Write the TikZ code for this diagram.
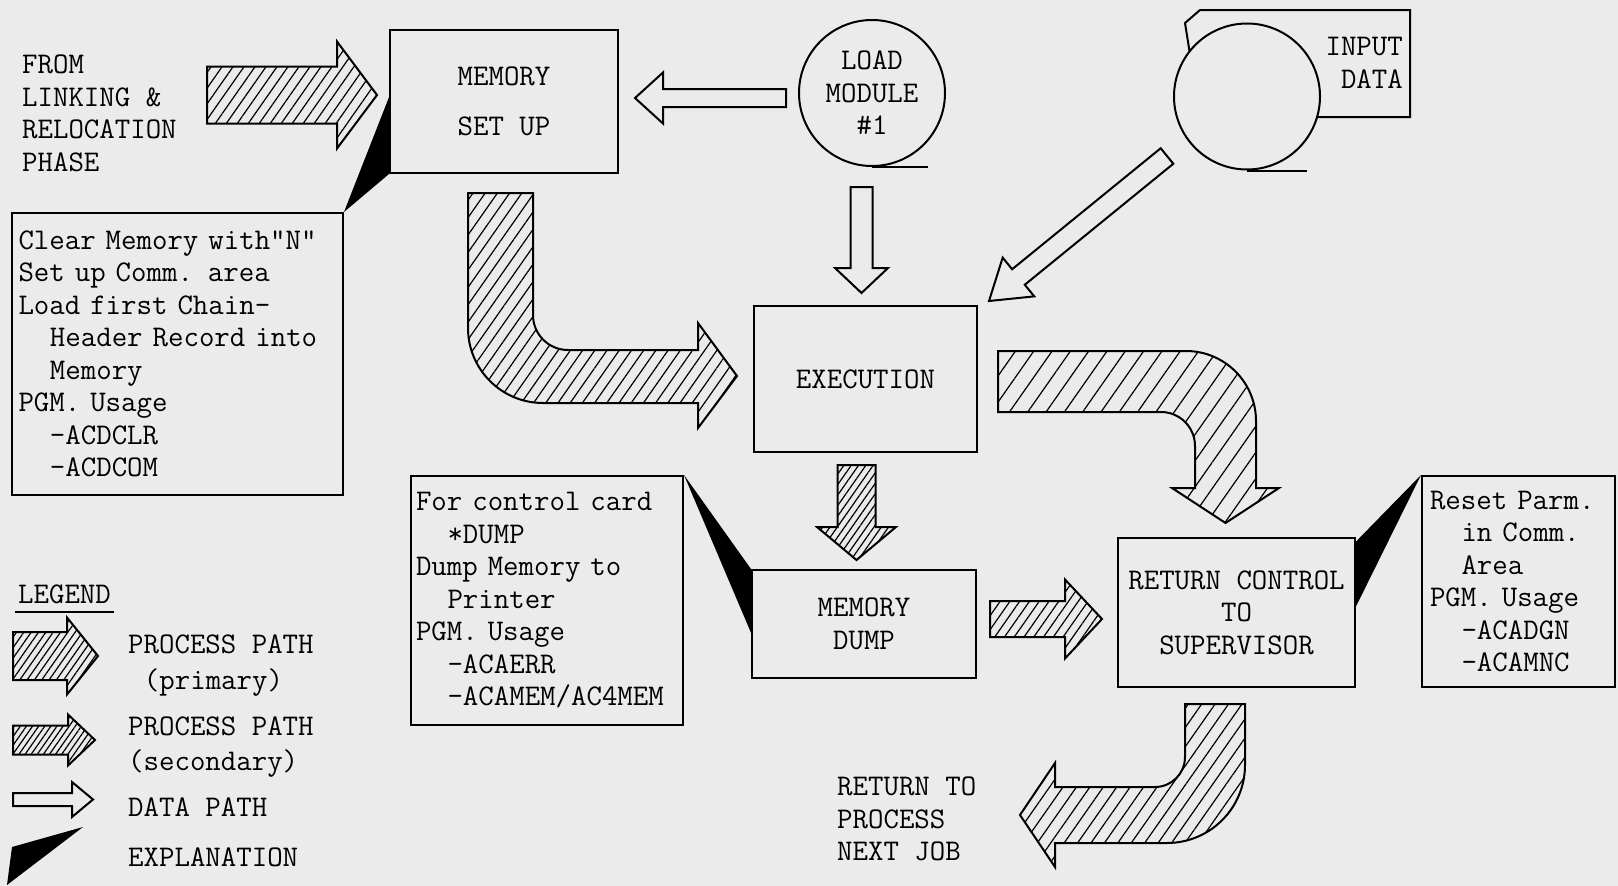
\documentclass[tikz,border=0pt]{standalone}
\usetikzlibrary{calc,patterns.meta}
\definecolor{paper}{gray}{0.92}
\newcommand{\typefont}{\ttfamily\fontsize{30}{32.5}\selectfont}
\newcommand{\indnt}{\hspace*{1.05em}}
% block arrow: [style]{tail}{tip}{body half width}{head half width}{head length}
\newcommand{\blockarrow}[6][]{%
  \coordinate (ba-h) at ($(#3)!#6pt!(#2)$);
  \draw[#1] ($(#2)!#4pt!90:(#3)$) -- ($(ba-h)!#4pt!90:(#3)$) -- ($(ba-h)!#5pt!90:(#3)$) -- (#3)
    -- ($(ba-h)!#5pt!-90:(#3)$) -- ($(ba-h)!#4pt!-90:(#3)$) -- ($(#2)!#4pt!-90:(#3)$) -- cycle;}

\begin{document}
\begin{tikzpicture}[x=1pt, y=-1pt,
    box/.style={draw, line width=2pt, inner sep=0pt, font=\typefont},
    txt/.style={inner sep=0pt, font=\typefont},
    hatch/.style={draw, line width=2pt, pattern={Lines[angle=55,distance=#1,line width=1.2pt]}},
    hatch/.default=10pt,
    datapath/.style={draw, line width=2pt},
    reel/.style={draw, circle, line width=2pt, inner sep=0pt, minimum size=146pt, font=\typefont}]
        \fill[paper] (0,0) rectangle (1618,886);
        \useasboundingbox (0,0) rectangle (1618,886);

        % boxes
        \node[box, minimum width=228pt, minimum height=143pt, align=center] (mem) at (504,101.5) {MEMORY\\[17pt]SET UP};
        \node[box, minimum width=223pt, minimum height=146pt] (exec) at (865.5,379) {EXECUTION};
        \node[box, minimum width=224pt, minimum height=108pt, align=center] (dump) at (864,624) {MEMORY\\DUMP};
        \node[box, minimum width=237pt, minimum height=149pt, align=center] (ret) at (1236.5,612.5) {RETURN CONTROL\\TO\\SUPERVISOR};
        \node[box, text width=318pt, inner xsep=6.5pt, minimum height=282pt, align=left] (setupnote) at (177.5,354)
            {Clear Memory with"N"\\Set up Comm. area\\Load first Chain-\\\indnt Header Record into\\\indnt Memory\\PGM. Usage\\\indnt -ACDCLR\\\indnt -ACDCOM};
        \node[box, text width=262pt, inner xsep=5pt, minimum height=249pt, align=left] (dumpnote) at (547,600.5)
            {For control card\\\indnt *DUMP\\Dump Memory to\\\indnt Printer\\PGM. Usage\\\indnt -ACAERR\\\indnt -ACAMEM/AC4MEM};
        \node[box, text width=177pt, inner xsep=8pt, minimum height=211pt, align=left] (resetnote) at (1518.5,581.5)
            {Reset Parm.\\\indnt in Comm.\\\indnt Area\\PGM. Usage\\\indnt -ACADGN\\\indnt -ACAMNC};

        % tape reels
        \node[reel, align=center] (load) at (872,93) {LOAD\\MODULE\\\#1};
        \draw[line width=2pt] (load.south) -- ++(56,0);
        \draw[line width=2pt] (1185,23) -- (1200,10) -- (1410,10) -- (1410,117) -- (1200,117) -- cycle;
        \node[reel, fill=paper] (input) at (1247,96.5) {};
        \draw[line width=2pt] (input.south) -- ++(60,0);
        \node[txt, anchor=north east, align=right] (inputtxt) at (1403,37) {INPUT\\DATA};

        % explanations
        \fill (mem.south west) -- (setupnote.north east) -- ($(mem.south west)!0.53!(mem.north west)$) -- cycle;
        \fill (dumpnote.north east) -- (dump.north west) -- ($(dump.north west)!0.58!(dump.south west)$) -- cycle;
        \fill (resetnote.north west) -- ($(ret.north east)!0.03!(ret.south east)$) -- ($(ret.north east)!0.46!(ret.south east)$) -- cycle;

        % paths
        \node[txt, anchor=north west, align=left] (fromtxt) at (22,55) {FROM\\LINKING \&\\RELOCATION\\PHASE};
        \coordinate (a1tail) at (207,95);
        \coordinate (a1tip) at (377,95);
        \blockarrow[hatch=9pt]{a1tail}{a1tip}{28.5}{53.5}{40}
        \coordinate (lmleft) at (786,98);
        \coordinate (lmtip) at (635,98);
        \blockarrow[datapath]{lmleft}{lmtip}{9}{25.5}{28}
        \coordinate (lmdown) at (861.5,187);
        \coordinate (lmdowntip) at (861.5,293);
        \blockarrow[datapath]{lmdown}{lmdowntip}{11}{26.5}{25}
        \coordinate (indiag) at (1167,156);
        \coordinate (indiagtip) at (989,301);
        \blockarrow[datapath]{indiag}{indiagtip}{10}{25}{38}
        \draw[hatch=10pt] (468,193) -- (533,193) -- (533,315) arc[start angle=180, end angle=90, radius=35]
            -- (698,350) -- (698,323) -- (737,376) -- (698,428) -- (698,403) -- (543,403)
            arc[start angle=90, end angle=180, radius=75] -- cycle;
        \draw[hatch=15pt] (998,351) -- (1186,351) arc[start angle=270, end angle=360, radius=70]
            -- (1256,488) -- (1279,488) -- (1225.5,523) -- (1172,488) -- (1195,488) -- (1195,446)
            arc[start angle=0, end angle=-90, radius=34] -- (998,412) -- cycle;
        \coordinate (extail) at (856.5,465);
        \coordinate (extip) at (856.5,560);
        \blockarrow[hatch=6pt]{extail}{extip}{19}{39.5}{33}
        \coordinate (dptail) at (990,619);
        \coordinate (dptip) at (1102,619);
        \blockarrow[hatch=8pt]{dptail}{dptip}{18}{39.5}{37}
        \draw[hatch=11pt] (1185,704) -- (1245,704) -- (1245,765) arc[start angle=0, end angle=90, radius=78]
            -- (1055,843) -- (1055,867) -- (1020,815) -- (1055,763) -- (1055,787) -- (1155,787)
            arc[start angle=90, end angle=0, radius=30] -- cycle;
        \node[txt, anchor=north west, align=left] (nexttxt) at (837,777) {RETURN TO\\PROCESS\\NEXT JOB};

        % legend
        \node[txt, anchor=north west] (legendtxt) at (18,585) {LEGEND};
        \draw[line width=2pt] ([xshift=-3pt,yshift=-8pt]legendtxt.south west) -- ([xshift=3pt,yshift=-8pt]legendtxt.south east);
        \coordinate (lg1) at (13,656);
        \coordinate (lg1tip) at (98,656);
        \blockarrow[hatch=6pt]{lg1}{lg1tip}{24}{38.5}{31}
        \coordinate (lg2) at (13,740);
        \coordinate (lg2tip) at (95,740);
        \blockarrow[hatch=5pt]{lg2}{lg2tip}{14.5}{25.5}{27}
        \coordinate (lg3) at (13,799.5);
        \coordinate (lg3tip) at (93,799.5);
        \blockarrow[datapath]{lg3}{lg3tip}{6.5}{17.5}{21}
        \fill (83,827) -- (12,847) -- (7,885) -- cycle;
        \node[txt, anchor=north west, align=left] (primtxt) at (128,635) {PROCESS PATH\\[3pt]\hspace*{0.525em}(primary)};
        \node[txt, anchor=north west, align=left] (sectxt) at (128,717) {PROCESS PATH\\[2pt](secondary)};
        \node[txt, anchor=north west] (datatxt) at (128,798) {DATA PATH};
        \node[txt, anchor=north west] (expltxt) at (128,848) {EXPLANATION};
    \end{tikzpicture}
\end{document}
